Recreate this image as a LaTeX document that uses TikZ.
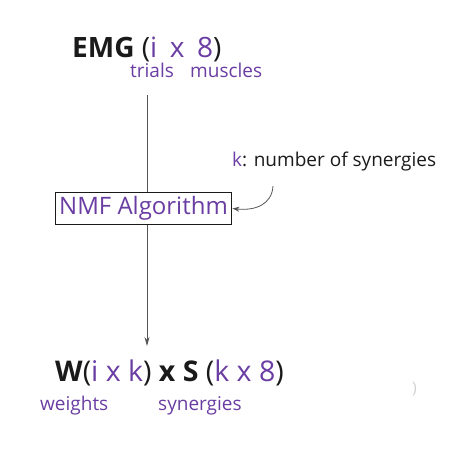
\documentclass[tikz,border=0pt]{standalone}
\usepackage{fontspec}
\setmainfont{Open Sans}
\usetikzlibrary{arrows.meta}
\definecolor{purp}{HTML}{6A3DA3}
\definecolor{ink}{HTML}{1A1A1A}
\tikzset{
  txt/.style={inner sep=0pt, anchor=base west, text=ink},
  lbl/.style={inner sep=0pt, anchor=base west, text=purp, font=\fontsize{19}{22}\selectfont},
  algbox/.style={draw=ink, line width=1.2pt, fill=white, text=purp, inner xsep=4pt, inner ysep=4pt, font=\fontsize{24}{28}\selectfont},
  conn/.style={draw=ink!75, line width=0.8pt},
}
\begin{document}
\begin{tikzpicture}[x=1pt,y=1pt]
\useasboundingbox (0,0) rectangle (473,-448);
% connectors (vertical line first, under the box)
\coordinate (top) at (147,-95);
\coordinate (bot) at (147,-346);
\coordinate (kstart) at (273,-186);
\draw[conn, -{Stealth[length=9pt,width=5pt]}] (top) -- (bot);
% title
\node[txt, font=\fontsize{28}{32}\selectfont] (emg) at (72,-57)
  {\textbf{EMG} (\textcolor{purp}{i\hspace{0.45em}x\hspace{0.45em}8})};
\node[lbl] (trials) at (130,-77) {trials};
\node[lbl] (muscles) at (190,-77) {muscles};
% algorithm box
\node[algbox] (nmf) at (143.5,-208.5) {NMF Algorithm};
% k label
\node[txt, font=\fontsize{19}{22}\selectfont] (k) at (232,-166) {\textcolor{purp}{k}: number of synergies};
% result
\node[txt, font=\fontsize{28.5}{32}\selectfont] (res) at (55,-381)
  {\textbf{W}(\textcolor{purp}{i x k}) \textbf{x S} (\textcolor{purp}{k x 8})};
\node[lbl] (weights) at (40,-410) {weights};
\node[lbl] (syn) at (158,-410) {synergies};
\node[txt, text=black!18, font=\fontsize{16}{18}\selectfont] (ghost) at (412,-393) {)};
\draw[conn, -{Stealth[length=7pt,width=5pt]}] (kstart) .. controls (272,-204) and (256,-211) .. (nmf.east);
\end{tikzpicture}
\end{document}
